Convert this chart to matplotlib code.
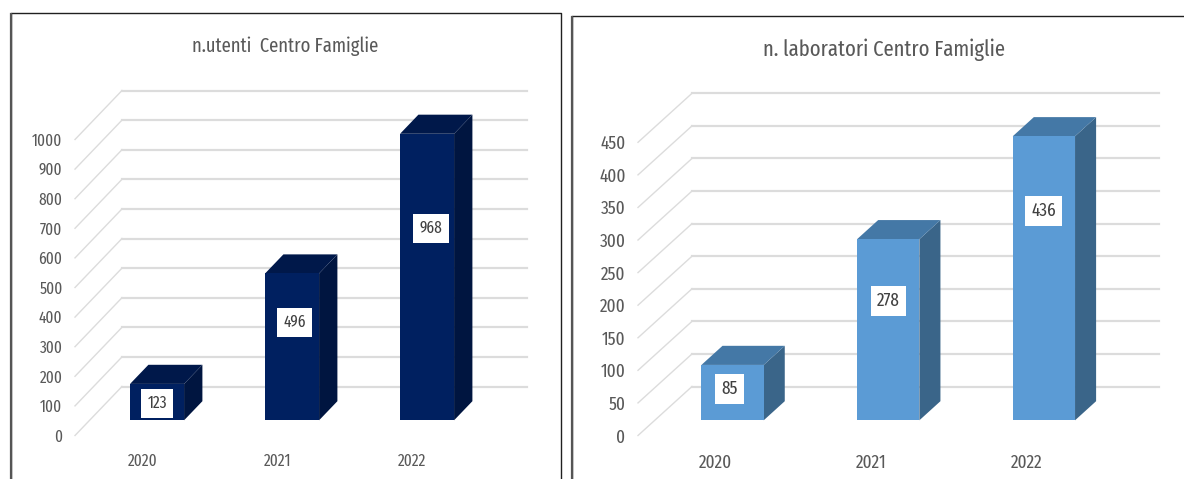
import matplotlib
matplotlib.use('Agg')
import matplotlib.pyplot as plt
from matplotlib.patches import Polygon

plt.rcParams['font.family'] = ['Fira Sans Extra Condensed', 'Lato', 'DejaVu Sans']

years = ['2020', '2021', '2022']
utenti = [123, 496, 968]
laboratori = [85, 278, 436]
ticks_utenti = list(range(0, 1001, 100))
ticks_laboratori = list(range(0, 451, 50))

W, H = 1184, 479
BAR_NEAR = 0.31   # where the bars start in the depth of the floor
BAR_FAR = 0.70
BAR_WIDTH = 0.40
GRID = '#dcdcdc'
TEXT = '#595959'


def make_axes(fig, left, right, y0, ytop):
    return fig.add_axes([left / W, 1 - y0 / H, (right - left) / W, (y0 - ytop) / H])


def chart(ax, values, yticks, title, title_xy, title_size, text_size, dx, dy, colors, label_fracs, label_dx):
    ax.set_xlim(-0.5, 2.5)
    ax.set_ylim(yticks[0], yticks[-1])
    for s in ax.spines.values():
        s.set_visible(False)
    ax.patch.set_alpha(0)

    ax.set_xticks(range(len(years)), years)
    ax.set_yticks(yticks)
    ax.tick_params(axis='both', length=0, labelsize=text_size, labelcolor=TEXT)
    ax.tick_params(axis='x', pad=13)
    ax.tick_params(axis='y', pad=9)

    # depth vector in data units, from pixel sizes of this panel
    bbox = ax.get_position()
    px_x = bbox.width * W / 3
    px_y = bbox.height * H / (yticks[-1] - yticks[0])
    ddx = dx / px_x
    ddy = dy / px_y

    def pt(x, y, d):
        return (x + d * ddx, y + d * ddy)

    for t in yticks:
        ax.plot(*zip(pt(-0.5, t, 0), pt(-0.5, t, 1)), color=GRID, lw=1.0, clip_on=False, zorder=1)
        ax.plot(*zip(pt(-0.5, t, 1), pt(2.5, t, 1)), color=GRID, lw=1.6, clip_on=False, zorder=1)

    for i, v in enumerate(values):
        x0 = i - BAR_WIDTH / 2
        x1 = i + BAR_WIDTH / 2
        front = [pt(x0, 0, BAR_NEAR), pt(x1, 0, BAR_NEAR), pt(x1, v, BAR_NEAR), pt(x0, v, BAR_NEAR)]
        top = [pt(x0, v, BAR_NEAR), pt(x1, v, BAR_NEAR), pt(x1, v, BAR_FAR), pt(x0, v, BAR_FAR)]
        side = [pt(x1, 0, BAR_NEAR), pt(x1, 0, BAR_FAR), pt(x1, v, BAR_FAR), pt(x1, v, BAR_NEAR)]
        ax.add_patch(Polygon(side, fc=colors[2], ec='none', clip_on=False, zorder=3))
        ax.add_patch(Polygon(top, fc=colors[1], ec='none', clip_on=False, zorder=3))
        ax.add_patch(Polygon(front, fc=colors[0], ec='none', clip_on=False, zorder=4))
        lx, ly = pt(i, v * label_fracs[i], BAR_NEAR)
        ax.text(lx + label_dx[i], ly, str(v), ha='center', va='center', fontsize=text_size, color='#404040',
                zorder=5, bbox=dict(fc='white', ec='none', pad=4.5))

    ax.figure.text(title_xy[0] / W, 1 - title_xy[1] / H, title, ha='center', va='center',
                   fontsize=title_size, color=TEXT)


fig = plt.figure(figsize=(W / 100, H / 100), dpi=100, facecolor='white')

# panel frames, open at the bottom
frame = fig.add_axes([0, 0, 1, 1])
frame.set_xlim(0, W)
frame.set_ylim(H, 0)
frame.axis('off')
frame.plot([10.5, 10.5, 560.5, 560.5], [H, 12.5, 12.5, H], color='#202020', lw=1.0)
frame.plot([571.5, 571.5, W], [H, 16, 16], color='#202020', lw=1.0)
frame.plot([10.5, 10.5], [H, 14], color='#555555', lw=1.6)
frame.plot([571.5, 571.5], [H, 17], color='#555555', lw=1.6)

ax1 = make_axes(fig, 75, 480, 435.5, 139.5)
chart(ax1, utenti, ticks_utenti, 'n.utenti  Centro Famiglie', (285.5, 46), 14.5, 12,
      47, 49, ['#002060', '#00184a', '#001540'], [0.47, 0.667, 0.67], [0, 0.02, 0.03])

ax2 = make_axes(fig, 638, 1105, 435.5, 142.3)
chart(ax2, laboratori, ticks_laboratori, 'n. laboratori Centro Famiglie', (884, 50), 16.2, 13.5,
      54, 49, ['#5b9bd5', '#4478a6', '#3a6589'], [0.56, 0.657, 0.736], [-0.02, 0, 0])

fig.savefig('out.png', dpi=100)
